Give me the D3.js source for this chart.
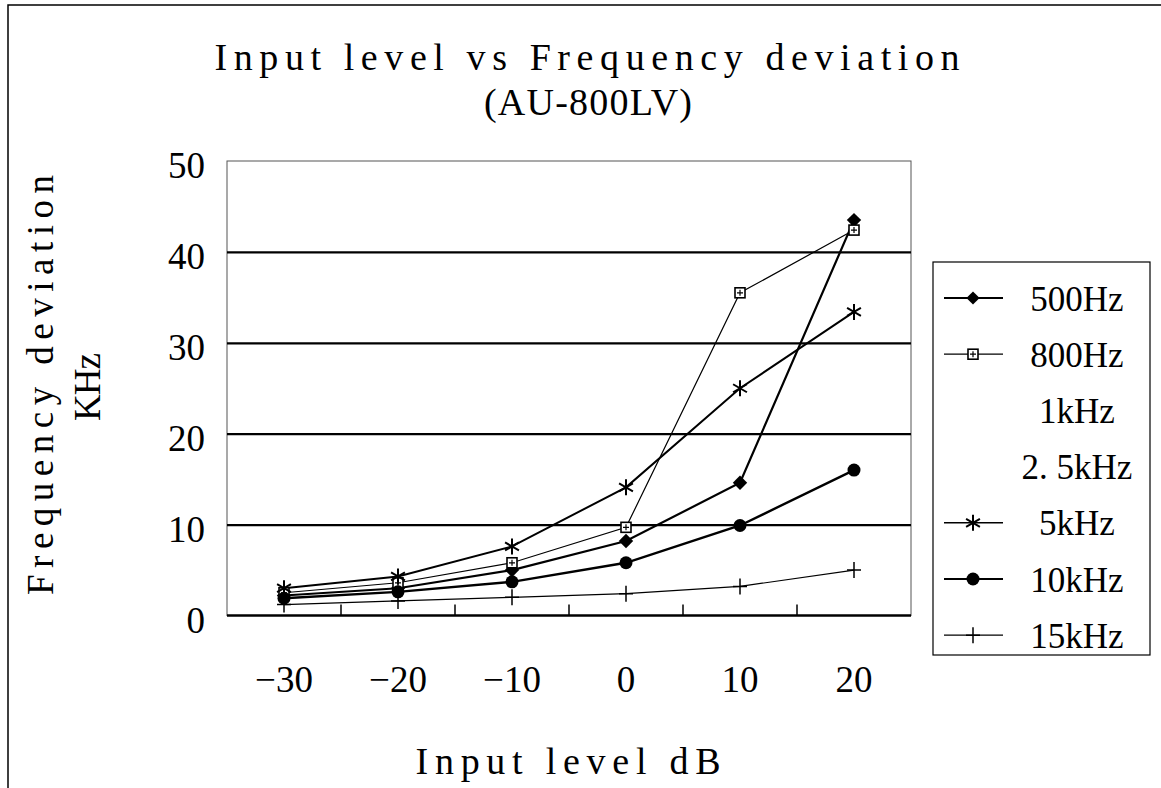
<html>
<head>
<meta charset="utf-8">
<title>Input level vs Frequency deviation</title>
<style>
  body { margin: 0; background: #fff; }
  text { font-family: "Liberation Serif", "DejaVu Serif", serif; fill: #000; }
</style>
</head>
<body>
<script src="https://cdn.jsdelivr.net/npm/d3@7/dist/d3.min.js"></script>
<script>

// input level (dB)
var levels = [-30, -20, -10, 0, 10, 20];
var yTicks = [0, 10, 20, 30, 40, 50];

// frequency deviation (kHz) per tone
var hz500  = [2.2, 3.0, 5.0, 8.2, 14.6, 43.5];
var hz800  = [2.5, 3.6, 5.8, 9.7, 35.5, 42.4];
var khz1   = [];   // in legend only, no visible line
var khz2_5 = [];   // in legend only, no visible line
var khz5   = [3.0, 4.3, 7.6, 14.1, 25.0, 33.4];
var khz10  = [1.9, 2.6, 3.7, 5.8, 9.9, 16.0];
var khz15  = [1.2, 1.6, 2.0, 2.4, 3.2, 5.0];

var seriesNames = ["500Hz", "800Hz", "1kHz", "2. 5kHz", "5kHz", "10kHz", "15kHz"];
var seriesValues = [hz500, hz800, khz1, khz2_5, khz5, khz10, khz15];
var seriesMarks = ["diamond", "square", "none", "none", "star", "circle", "plus"];
var seriesWidth = [2.2, 1.2, 0, 0, 2, 2.4, 1.2];

var W = 1161, H = 788;
var pL = 227, pR = 911, pT = 161, pB = 615.5;

var svg = d3.select("body").append("svg")
    .attr("width", W)
    .attr("height", H);

// outer frame
svg.append("rect")
    .attr("x", 8).attr("y", 5)
    .attr("width", W + 10).attr("height", H + 10)
    .attr("fill", "none").attr("stroke", "#000").attr("stroke-width", 1.5);

var x = d3.scaleBand().domain(levels).range([pL, pR]).padding(0);
var y = d3.scaleLinear().domain([0, 50]).range([pB, pT]);
function cx(i) { return x(levels[i]) + x.bandwidth() / 2; }

// plot border
svg.append("rect")
    .attr("x", pL).attr("y", pT)
    .attr("width", pR - pL).attr("height", pB - pT)
    .attr("fill", "none").attr("stroke", "#555").attr("stroke-width", 1);

// gridlines
var grid = d3.axisLeft(y).tickValues([10, 20, 30, 40]).tickSize(-(pR - pL)).tickFormat("");
var g = svg.append("g").attr("transform", "translate(" + pL + ",0)").call(grid);
g.select(".domain").remove();
g.selectAll(".tick line").attr("stroke", "#000").attr("stroke-width", 2.2);

// y labels
var yAxis = d3.axisLeft(y).tickValues(yTicks).tickSize(0).tickPadding(22).tickFormat(d3.format("d"));
var ga = svg.append("g").attr("transform", "translate(" + pL + ",0)").call(yAxis);
ga.select(".domain").remove();
ga.selectAll("text").attr("font-size", 37).attr("font-family", "Liberation Serif").attr("dy", "0.45em");

// bottom axis line
svg.append("line")
    .attr("x1", pL).attr("x2", pR)
    .attr("y1", pB).attr("y2", pB)
    .attr("stroke", "#000").attr("stroke-width", 2.5);

// inner ticks between categories
svg.selectAll(".xtick").data(levels.slice(1)).enter().append("line")
    .attr("x1", function(d) { return x(d); })
    .attr("x2", function(d) { return x(d); })
    .attr("y1", pB).attr("y2", pB - 11)
    .attr("stroke", "#000").attr("stroke-width", 1.5);

// x labels
var xAxis = d3.axisBottom(x).tickSize(0).tickPadding(50).tickFormat(d3.format("d"));
var gx = svg.append("g").attr("transform", "translate(0," + pB + ")").call(xAxis);
gx.select(".domain").remove();
gx.selectAll("text").attr("font-size", 37).attr("font-family", "Liberation Serif");

// markers
function drawMark(sel, type, px, py, s) {
  if (type === "diamond") {
    var d = s * 0.6;
    sel.append("path")
      .attr("d", "M" + px + "," + (py - d) + "L" + (px + d) + "," + py + "L" + px + "," + (py + d) + "L" + (px - d) + "," + py + "Z")
      .attr("fill", "#000");
  } else if (type === "square") {
    sel.append("rect").attr("x", px - 5).attr("y", py - 5).attr("width", 10).attr("height", 10)
      .attr("fill", "#fff").attr("stroke", "#000").attr("stroke-width", 1.6);
    sel.append("path").attr("d", "M" + (px - 3) + "," + py + "h6M" + px + "," + (py - 3) + "v6")
      .attr("stroke", "#000").attr("stroke-width", 1.2);
  } else if (type === "star") {
    var r = 8;
    var p = "";
    [0, 60, 120].forEach(function(a) {
      var rad = (a + 90) * Math.PI / 180;
      p += "M" + (px + r * Math.cos(rad)) + "," + (py + r * Math.sin(rad)) +
           "L" + (px - r * Math.cos(rad)) + "," + (py - r * Math.sin(rad));
    });
    sel.append("path").attr("d", p).attr("stroke", "#000").attr("stroke-width", 2);
  } else if (type === "circle") {
    sel.append("circle").attr("cx", px).attr("cy", py).attr("r", 6.5).attr("fill", "#000");
  } else if (type === "plus") {
    sel.append("path").attr("d", "M" + (px - 7) + "," + py + "h14M" + px + "," + (py - 8) + "v16")
      .attr("stroke", "#000").attr("stroke-width", 1.5);
  }
}

var line = d3.line()
    .x(function(d, i) { return cx(i); })
    .y(function(d) { return y(d); });

var plot = svg.append("g");
seriesValues.forEach(function(vals, k) {
  if (!vals.length) return;
  plot.append("path")
    .attr("d", line(vals))
    .attr("fill", "none")
    .attr("stroke", "#000")
    .attr("stroke-width", seriesWidth[k]);
});
seriesValues.forEach(function(vals, k) {
  vals.forEach(function(v, i) {
    drawMark(plot, seriesMarks[k], cx(i), y(v), 12);
  });
});

// legend
var lx = 933, ly = 262, lw = 217, lh = 393;
svg.append("rect")
    .attr("x", lx).attr("y", ly).attr("width", lw).attr("height", lh)
    .attr("fill", "#fff").attr("stroke", "#000").attr("stroke-width", 1.2);
var step = 56.2;
seriesNames.forEach(function(name, k) {
  var yy = ly + 36 + k * step;
  if (seriesMarks[k] !== "none") {
    svg.append("line")
      .attr("x1", lx + 11).attr("x2", lx + 70)
      .attr("y1", yy).attr("y2", yy)
      .attr("stroke", "#000").attr("stroke-width", Math.max(1.2, seriesWidth[k] * 0.8));
    drawMark(svg, seriesMarks[k], lx + 40, yy, 11);
  }
  svg.append("text")
    .attr("x", 1077).attr("y", yy)
    .attr("dy", "0.36em")
    .attr("text-anchor", "middle")
    .attr("font-size", 35)
    .text(name);
});

// titles
svg.append("text")
    .attr("x", 587).attr("y", 70)
    .attr("text-anchor", "middle").attr("font-size", 38)
    .attr("textLength", 745).attr("lengthAdjust", "spacing")
    .text("Input level vs Frequency deviation");
svg.append("text")
    .attr("x", 588).attr("y", 115)
    .attr("text-anchor", "middle").attr("font-size", 38)
    .attr("textLength", 208).attr("lengthAdjust", "spacing")
    .text("(AU-800LV)");

svg.append("text")
    .attr("transform", "translate(53,385) rotate(-90)")
    .attr("text-anchor", "middle").attr("font-size", 37)
    .attr("textLength", 420).attr("lengthAdjust", "spacing")
    .text("Frequency deviation");
svg.append("text")
    .attr("transform", "translate(100,387) rotate(-90)")
    .attr("text-anchor", "middle").attr("font-size", 37)
    .attr("textLength", 68).attr("lengthAdjust", "spacing")
    .text("KHz");

svg.append("text")
    .attr("x", 568).attr("y", 774)
    .attr("text-anchor", "middle").attr("font-size", 38)
    .attr("textLength", 305).attr("lengthAdjust", "spacing")
    .text("Input level dB");

</script>
</body>
</html>
